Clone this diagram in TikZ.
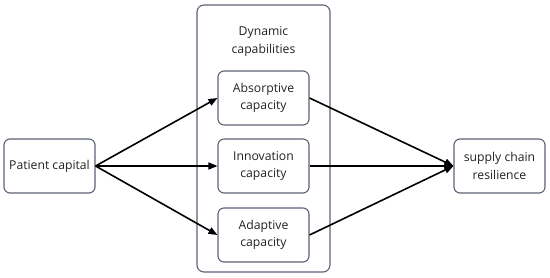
\documentclass[tikz,border=0pt]{standalone}
\usepackage{fontspec}
\setmainfont{Open Sans}
\usetikzlibrary{arrows.meta}
\definecolor{boxline}{HTML}{5A6274}
\definecolor{txt}{HTML}{222222}
\tikzset{
  boxnode/.style={draw=boxline, line width=1.1pt, rounded corners=6pt, fill=white,
    minimum width=91pt, minimum height=54pt, align=center, text=txt,
    font=\fontsize{12.2pt}{17.5pt}\selectfont, inner sep=0pt},
  conn/.style={line width=1.6pt, -{Triangle[length=9pt,width=7pt]}}
}
\begin{document}
\begin{tikzpicture}[x=1pt,y=-1pt]
\useasboundingbox (0,0) rectangle (550,278);
\draw[boxline, line width=1.1pt, rounded corners=7pt] (197,5) rectangle (330,272);
\node[text=txt, align=center, font=\fontsize{12.2pt}{17.5pt}\selectfont] (dyn) at (263.5,41.5) {Dynamic\\capabilities};
\node[boxnode] (pc) at (49.5,166) {Patient capital};
\node[boxnode] (ab) at (263.5,98) {Absorptive\\capacity};
\node[boxnode] (in) at (263.5,166) {Innovation\\capacity};
\node[boxnode] (ad) at (263.5,235) {Adaptive\\capacity};
\node[boxnode] (sc) at (499.5,166) {supply chain\\resilience};
\draw[conn] (pc.east) -- (ab.west);
\draw[conn] (pc.east) -- (in.west);
\draw[conn] (pc.east) -- (ad.west);
\draw[conn] (ab.east) -- (sc.west);
\draw[conn] (in.east) -- (sc.west);
\draw[conn] (ad.east) -- (sc.west);
\end{tikzpicture}
\end{document}
